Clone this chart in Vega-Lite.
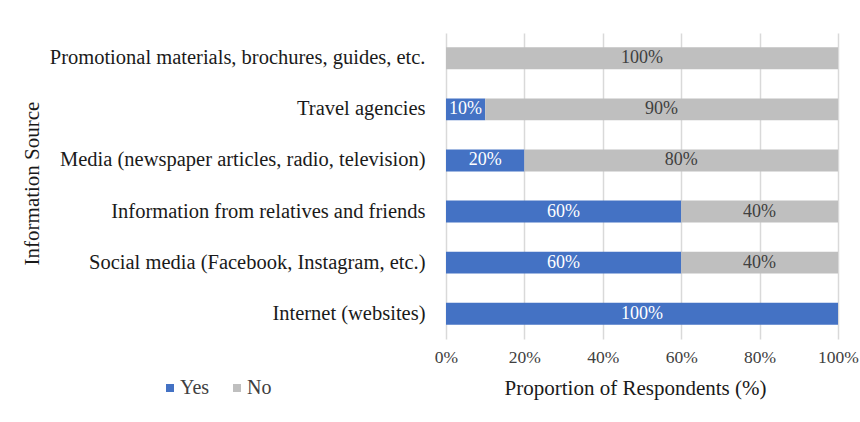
{
  "$schema": "https://vega.github.io/schema/vega-lite/v6.json",
  "autosize": {"type": "none"},
  "width": 392,
  "height": 306,
  "padding": {"left": 446, "top": 33, "right": 22, "bottom": 83},
  "background": "white",
  "config": {
    "font": "Liberation Serif",
    "view": {"stroke": null}
  },
  "data": {
    "values": [
      {"source": "Promotional materials, brochures, guides, etc.", "answer": "Yes", "value": 0},
      {"source": "Promotional materials, brochures, guides, etc.", "answer": "No", "value": 100},
      {"source": "Travel agencies", "answer": "Yes", "value": 10},
      {"source": "Travel agencies", "answer": "No", "value": 90},
      {"source": "Media (newspaper articles, radio, television)", "answer": "Yes", "value": 20},
      {"source": "Media (newspaper articles, radio, television)", "answer": "No", "value": 80},
      {"source": "Information from relatives and friends", "answer": "Yes", "value": 60},
      {"source": "Information from relatives and friends", "answer": "No", "value": 40},
      {"source": "Social media (Facebook, Instagram, etc.)", "answer": "Yes", "value": 60},
      {"source": "Social media (Facebook, Instagram, etc.)", "answer": "No", "value": 40},
      {"source": "Internet (websites)", "answer": "Yes", "value": 100},
      {"source": "Internet (websites)", "answer": "No", "value": 0}
    ]
  },
  "transform": [
    {"stack": "value", "groupby": ["source"], "sort": [{"field": "answer", "order": "descending"}], "as": ["x0", "x1"]},
    {"calculate": "(datum.x0 + datum.x1) / 2", "as": "mid"},
    {"calculate": "datum.value + '%'", "as": "label"}
  ],
  "encoding": {
    "y": {
      "field": "source",
      "type": "nominal",
      "sort": [
        "Promotional materials, brochures, guides, etc.",
        "Travel agencies",
        "Media (newspaper articles, radio, television)",
        "Information from relatives and friends",
        "Social media (Facebook, Instagram, etc.)",
        "Internet (websites)"
      ],
      "scale": {"paddingInner": 0.57, "paddingOuter": 0.28},
      "axis": {
        "title": "Information Source",
        "titleFont": "Liberation Serif",
        "titleFontSize": 21,
        "titleFontWeight": "normal",
        "titleColor": "#1a1a1a",
        "titleX": -414,
        "titleY": 150,
        "titleAngle": -90,
        "titleAlign": "center",
        "titleBaseline": "middle",
        "labelFont": "Liberation Serif",
        "labelFontSize": 20.5,
        "labelColor": "#1a1a1a",
        "labelPadding": 21,
        "labelLimit": 430,
        "ticks": false,
        "domain": false
      }
    }
  },
  "layer": [
    {
      "mark": {"type": "bar"},
      "encoding": {
        "x": {
          "field": "x0",
          "type": "quantitative",
          "scale": {"domain": [0, 100]},
          "axis": {
            "title": "Proportion of Respondents (%)",
            "titleFont": "Liberation Serif",
            "titleFontSize": 21,
            "titleFontWeight": "normal",
            "titleColor": "#1a1a1a",
            "titlePadding": 12,
            "titleX": 189,
            "values": [0, 20, 40, 60, 80, 100],
            "labelExpr": "datum.value + '%'",
            "labelFlush": false,
            "labelFont": "Liberation Serif",
            "labelFontSize": 17.5,
            "labelColor": "#404040",
            "labelPadding": 9,
            "ticks": false,
            "domain": false,
            "grid": true,
            "gridColor": "#d9d9d9",
            "gridWidth": 1.5
          }
        },
        "x2": {"field": "x1"},
        "color": {
          "field": "answer",
          "type": "nominal",
          "scale": {"domain": ["Yes", "No"], "range": ["#4472C4", "#BFBFBF"]},
          "legend": {
            "title": null,
            "orient": "none",
            "legendX": -286,
            "legendY": 345,
            "direction": "horizontal",
            "symbolType": "square",
            "symbolSize": 64,
            "symbolStrokeWidth": 0,
            "labelFont": "Liberation Serif",
            "labelFontSize": 20,
            "labelColor": "#404040",
            "columnPadding": 17,
            "labelOffset": 0
          }
        }
      }
    },
    {
      "transform": [{"filter": "datum.value > 0"}],
      "mark": {"type": "text", "font": "Liberation Serif", "fontSize": 18, "baseline": "middle", "align": "center"},
      "encoding": {
        "x": {"field": "mid", "type": "quantitative"},
        "text": {"field": "label"},
        "color": {
          "condition": {"test": "datum.answer === 'Yes'", "value": "white"},
          "value": "#404040"
        }
      }
    }
  ]
}
